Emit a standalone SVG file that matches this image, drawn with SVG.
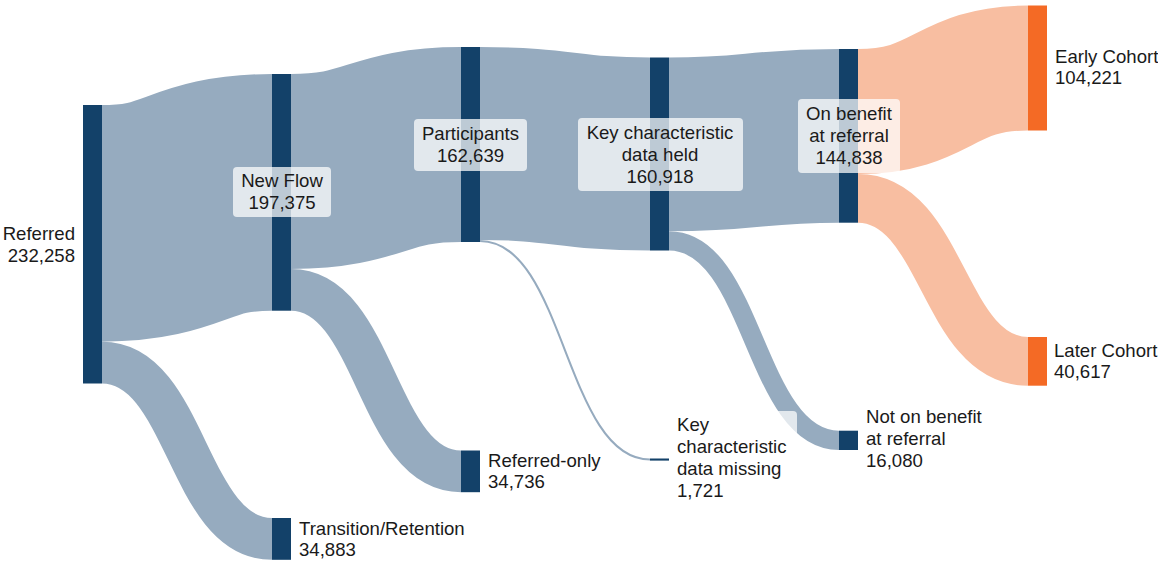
<svg xmlns="http://www.w3.org/2000/svg" width="1158" height="562" viewBox="0 0 1158 562">
<style>
.lk{fill:none;stroke:#96abbf}
.lo{fill:none;stroke:#f8bea1}
.nd{fill:#134169}
.no{fill:#f46a25}
.bx{fill:#ffffff;fill-opacity:0.72}
text{font-family:"Liberation Sans",Arial,sans-serif;font-size:18.6px;fill:#1a1a1a}
.c{text-anchor:middle}
.e{text-anchor:end}
</style>
<rect width="1158" height="562" fill="#ffffff"/>
<g id="connectors">
<path class="lk" stroke-width="236.7" d="M102,223.35C187,223.35 187,192.35 272,192.35"/>
<path class="lk" stroke-width="41.8" d="M102,362.6C187,362.6 187,538.9 272,538.9"/>
<path class="lk" stroke-width="195" d="M291,171.5C376,171.5 376,144.5 461,144.5"/>
<path class="lk" stroke-width="41.65" d="M291,289.85C376,289.85 376,471.35 461,471.35"/>
<path class="lk" stroke-width="193" d="M480,143.5C565,143.5 565,154 650,154"/>
<path class="lk" stroke-width="2.06" d="M480,241C565,241 565,459.55 650,459.55"/>
<path class="lk" stroke-width="173.7" d="M669,144.35C754,144.35 754,135.85 839,135.85"/>
<path class="lk" stroke-width="19.3" d="M669,240.85C754,240.85 754,440.35 839,440.35"/>
<path class="lo" stroke-width="125" d="M858,111.5C943,111.5 943,68 1028,68"/>
<path class="lo" stroke-width="48.7" d="M858,198.35C943,198.35 943,361.35 1028,361.35"/>
</g>
<g id="node-referred"><rect class="nd" x="83" y="105" width="19" height="278.5"/>
<text class="e" x="75" y="240">Referred</text><text class="e" x="75" y="262">232,258</text></g>
<g id="node-newflow"><rect class="nd" x="272" y="74" width="19" height="236.7"/>
<rect class="bx" x="233" y="167" width="98" height="50" rx="4"/>
<text class="c" x="282" y="187">New Flow</text><text class="c" x="282" y="209">197,375</text></g>
<g id="node-transition"><rect class="nd" x="272" y="518" width="19" height="41.8"/>
<text x="299" y="535">Transition/Retention</text><text x="299" y="556">34,883</text></g>
<g id="node-participants"><rect class="nd" x="461" y="47" width="19" height="195"/>
<rect class="bx" x="414" y="119" width="113" height="52" rx="4"/>
<text class="c" x="470.5" y="140">Participants</text><text class="c" x="470.5" y="162">162,639</text></g>
<g id="node-referredonly"><rect class="nd" x="461" y="450.5" width="19" height="41.7"/>
<text x="488" y="467">Referred-only</text><text x="488" y="488">34,736</text></g>
<g id="node-keyheld"><rect class="nd" x="650" y="57.5" width="19" height="193"/>
<rect class="bx" x="578" y="118" width="165" height="73" rx="4"/>
<text class="c" x="660" y="139">Key characteristic</text><text class="c" x="660" y="161">data held</text><text class="c" x="660" y="183">160,918</text></g>
<g id="node-keymissing"><rect class="nd" x="650" y="458.5" width="19" height="2.1"/>
<rect class="bx" x="671" y="411" width="126" height="92" rx="4"/>
<text x="677" y="431">Key</text><text x="677" y="453">characteristic</text><text x="677" y="475">data missing</text><text x="677" y="497">1,721</text></g>
<g id="node-onbenefit"><rect class="nd" x="839" y="49" width="19" height="173.7"/>
<rect class="bx" x="798" y="99" width="102" height="74" rx="4"/>
<text class="c" x="849" y="120">On benefit</text><text class="c" x="849" y="142">at referral</text><text class="c" x="849" y="164">144,838</text></g>
<g id="node-notonbenefit"><rect class="nd" x="839" y="430.7" width="19" height="19.3"/>
<text x="866" y="423">Not on benefit</text><text x="866" y="445">at referral</text><text x="866" y="467">16,080</text></g>
<g id="node-early"><rect class="no" x="1028" y="5.5" width="19" height="125"/>
<text x="1055" y="63">Early Cohort</text><text x="1055" y="84">104,221</text></g>
<g id="node-later"><rect class="no" x="1028" y="337" width="19" height="48.7"/>
<text x="1054" y="357">Later Cohort</text><text x="1054" y="378">40,617</text></g>
</svg>
